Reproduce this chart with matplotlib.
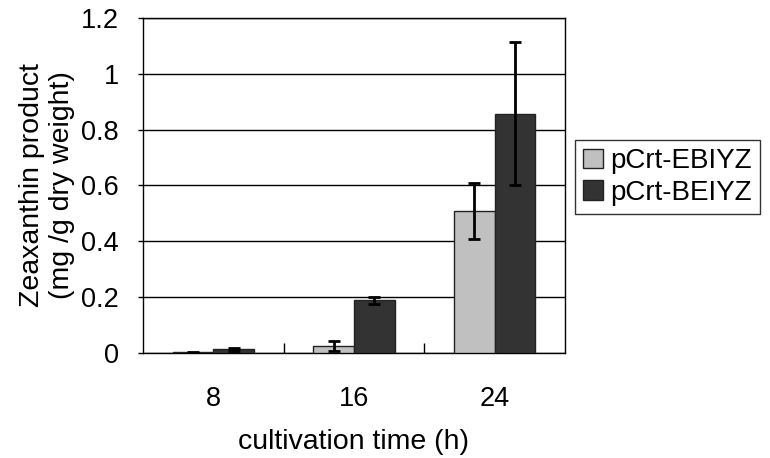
import matplotlib
matplotlib.use("Agg")
import matplotlib.pyplot as plt
import numpy as np

plt.rcParams['font.family'] = ['Liberation Sans', 'DejaVu Sans']

categories = ['8', '16', '24']
series_names = ['pCrt-EBIYZ', 'pCrt-BEIYZ']
ebiyz = [0.003, 0.026, 0.51]
ebiyz_err = [0.002, 0.017, 0.10]
beiyz = [0.013, 0.189, 0.857]
beiyz_err = [0.007, 0.013, 0.255]
colors = ['#c0c0c0', '#333333']

fig = plt.figure(figsize=(7.7, 4.58), dpi=100)
ax = fig.add_axes([0.1857, 0.229, 0.548, 0.732])

x = np.arange(len(categories))
w = 0.29
ekw = dict(elinewidth=2, capthick=2, ecolor='black')
ax.bar(x - w/2, ebiyz, w, yerr=ebiyz_err, capsize=4, color=colors[0],
       edgecolor='#222222', linewidth=1, error_kw=ekw, label=series_names[0], zorder=3)
ax.bar(x + w/2, beiyz, w, yerr=beiyz_err, capsize=4, color=colors[1],
       edgecolor='#222222', linewidth=1, error_kw=ekw, label=series_names[1], zorder=3)

ax.set_xlim(-0.5, 2.5)
ax.set_ylim(0, 1.2)
ax.set_yticks([0, 0.2, 0.4, 0.6, 0.8, 1.0, 1.2])
ax.set_yticklabels(['0', '0.2', '0.4', '0.6', '0.8', '1', '1.2'])
ax.yaxis.grid(True, color='black', linewidth=1)
ax.set_axisbelow(True)
ax.set_xticks(x)
ax.set_xticklabels(categories)
ax.tick_params(axis='x', length=0, pad=24, labelsize=19.5)
ax.set_xticks([0.5, 1.5], minor=True)
ax.tick_params(axis='x', which='minor', direction='in', length=7, width=1)
ax.tick_params(axis='y', length=3.5, width=1, labelsize=19.5, pad=14)
for s in ax.spines.values():
    s.set_linewidth(1)
    s.set_color('black')

ax.set_xlabel('cultivation time (h)', fontsize=20.5, labelpad=12)
ax.set_ylabel('Zeaxanthin product\n(mg /g dry weight)', fontsize=20.5, labelpad=4, linespacing=1.2)

leg = ax.legend(loc='center left', bbox_to_anchor=(1.024, 0.525), fontsize=20,
                frameon=True, fancybox=False, edgecolor='black',
                handlelength=0.7, handleheight=0.7, handletextpad=0.25,
                borderpad=0.3, labelspacing=0.2, borderaxespad=0)
leg.get_frame().set_linewidth(1)

fig.savefig('out.png', dpi=100)
